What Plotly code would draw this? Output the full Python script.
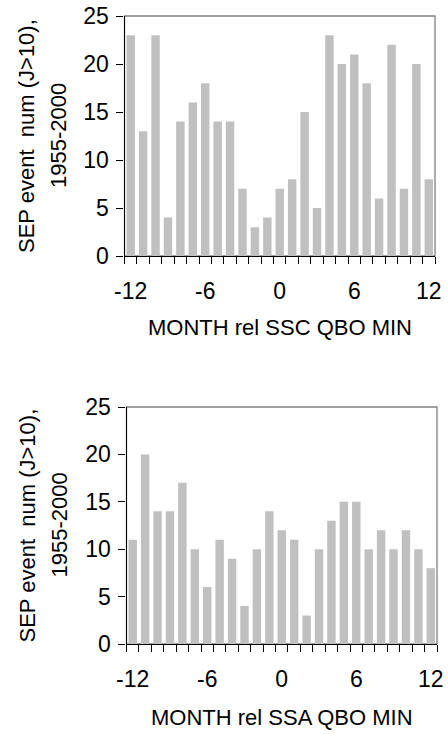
import plotly.graph_objects as go

months = list(range(-12, 13))
ssc_counts = [23, 13, 23, 4, 14, 16, 18, 14, 14, 7, 3, 4, 7, 8, 15, 5, 23, 20, 21, 18, 6, 22, 7, 20, 8]
ssa_counts = [11, 20, 14, 14, 17, 10, 6, 11, 9, 4, 10, 14, 12, 11, 3, 10, 13, 15, 15, 10, 12, 10, 12, 10, 8]
x_tick_vals = [-12, -6, 0, 6, 12]
x_tick_text = ["-12", "-6", "0", "6", "12"]
y_tick_vals = [0, 5, 10, 15, 20, 25]
y_title_lines = ["SEP event  num (J>10),", "1955-2000"]
x_titles = ["MONTH rel SSC QBO MIN", "MONTH rel SSA QBO MIN"]

W, H = 448, 734
FONT = "Liberation Sans, Arial, sans-serif"
BAR = "#c0c0c0"

# panel pixel boxes (left, right, top, bottom)
panels = [(124.5, 435, 16, 256), (126.5, 437, 407, 644)]

fig = go.Figure()
for i, (vals, (l, r, t, b)) in enumerate(zip([ssc_counts, ssa_counts], panels)):
    xa = "x" if i == 0 else "x2"
    ya = "y" if i == 0 else "y2"
    fig.add_trace(go.Bar(x=months, y=vals, width=0.68, marker=dict(color=BAR, line=dict(width=0)),
                         xaxis=xa, yaxis=ya, showlegend=False, hoverinfo="x+y"))
    xd = [l / W, r / W]
    yd = [1 - b / H, 1 - t / H]
    sfx = "" if i == 0 else "2"
    fig.layout["xaxis" + sfx] = dict(
        domain=xd, range=[-12.5, 12.5], anchor="y" + sfx, automargin=False,
        tickmode="array", tickvals=x_tick_vals, ticktext=x_tick_text, ticks="outside", ticklen=0,
        ticklabelstandoff=14,
        showline=True, linecolor="black", linewidth=1.3, showgrid=False, zeroline=False,
        tickfont=dict(family=FONT, size=23, color="black"),
        minor=dict(ticks="outside", ticklen=7, tickcolor="black", tick0=0.5, dtick=1, showgrid=False),
    )
    fig.layout["yaxis" + sfx] = dict(
        domain=yd, range=[0, 25], anchor="x" + sfx, automargin=False,
        tickmode="array", tickvals=y_tick_vals, ticks="outside", ticklen=7, tickcolor="black",
        ticklabelstandoff=3,
        showline=True, linecolor="black", linewidth=1.3, showgrid=False, zeroline=False,
        tickfont=dict(family=FONT, size=23, color="black"),
    )
    # gray frame (top & right)
    fig.add_shape(type="rect", xref="x" + sfx + " domain", yref="y" + sfx + " domain",
                  x0=0, x1=1, y0=0, y1=1, line=dict(color="#808080", width=1.3), layer="below")
    # y title (two lines)
    for xc, line in zip([27, 59], y_title_lines):
        fig.add_annotation(text=line, xref="paper", yref="paper", x=xc / W, y=1 - (t + b) / 2 / H,
                           textangle=-90, showarrow=False, xanchor="center", yanchor="middle",
                           font=dict(family=FONT, size=22, color="black"))
    # x title
    ty = 328 if i == 0 else 717
    fig.add_annotation(text=x_titles[i], xref="paper", yref="paper", x=(l + r) / 2 / W, y=1 - ty / H,
                       showarrow=False, xanchor="center", yanchor="middle",
                       font=dict(family=FONT, size=22, color="black"))

fig.update_layout(width=W, height=H, margin=dict(l=0, r=0, t=0, b=0, autoexpand=False),
                  paper_bgcolor="white", plot_bgcolor="white", bargap=0.3)
fig.write_html("out.html")
